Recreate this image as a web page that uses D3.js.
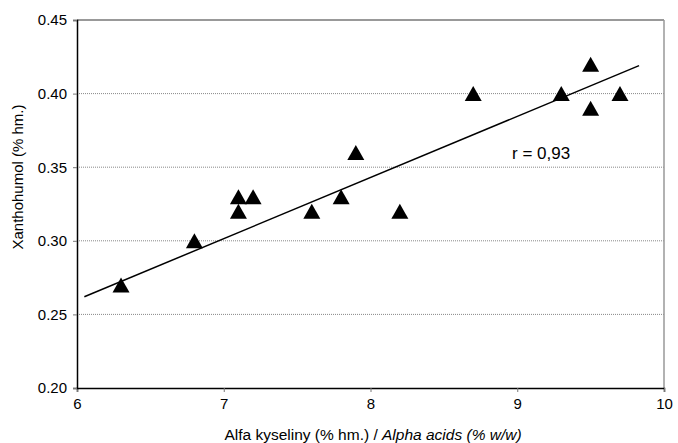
<!DOCTYPE html>
<html>
<head>
<meta charset="utf-8">
<script src="https://cdn.jsdelivr.net/npm/d3@7"></script>
<style>
  body { margin: 0; background: #fff; }
  svg { display: block; font-family: "Liberation Sans", Arial, sans-serif; }
</style>
</head>
<body>
<div id="chart"></div>
<script>
// alpha acids (% w/w) vs xanthohumol (% w/w)
const alphaAcids = [6.3, 6.8, 7.1, 7.1, 7.2, 7.6, 7.8, 7.9, 8.2, 8.7, 9.3, 9.5, 9.5, 9.7]
const xanthohumol = [0.27, 0.30, 0.32, 0.33, 0.33, 0.32, 0.33, 0.36, 0.32, 0.40, 0.40, 0.42, 0.39, 0.40]
// trend line end points
const trendX = [6.05, 9.83]
const trendY = [0.262, 0.419]
const xTicks = [6, 7, 8, 9, 10]
const yTicks = [0.20, 0.25, 0.30, 0.35, 0.40, 0.45]

const W = 678, H = 443
const margin = { top: 20, right: 14, bottom: 55, left: 77 }

const svg = d3.select("#chart").append("svg")
  .attr("width", W)
  .attr("height", H)

const x = d3.scaleLinear().domain([6, 10]).range([margin.left, W - margin.right])
const y = d3.scaleLinear().domain([0.20, 0.45]).range([H - margin.bottom, margin.top])

// gridlines
svg.append("g")
  .selectAll("line")
  .data(yTicks.filter(d => d > 0.2 && d < 0.45))
  .join("line")
    .attr("x1", x(6)).attr("x2", x(10))
    .attr("y1", d => y(d)).attr("y2", d => y(d))
    .attr("stroke", "#888")
    .attr("stroke-width", 1)
    .attr("stroke-dasharray", "1,1")

// top and right frame
svg.append("line")
  .attr("x1", x(6)).attr("x2", x(10))
  .attr("y1", y(0.45)).attr("y2", y(0.45))
  .attr("stroke", "#999").attr("stroke-width", 2)
svg.append("line")
  .attr("x1", x(10)).attr("x2", x(10))
  .attr("y1", y(0.45)).attr("y2", y(0.20))
  .attr("stroke", "#999").attr("stroke-width", 1.5)

// axes
const xAxis = svg.append("g")
  .attr("transform", `translate(0,${y(0.20)})`)
  .call(d3.axisBottom(x).tickValues(xTicks).tickFormat(d3.format("d")).tickSizeOuter(0).tickSize(4).tickPadding(6))
xAxis.select(".domain").attr("stroke", "#000").attr("stroke-width", 1.5)
xAxis.selectAll(".tick line").attr("stroke", "#777")
xAxis.selectAll("text").attr("font-size", "15px").attr("fill", "#000")
  .attr("font-family", "Liberation Sans, Arial, sans-serif")

const yAxis = svg.append("g")
  .attr("transform", `translate(${x(6)},0)`)
  .call(d3.axisLeft(y).tickValues(yTicks).tickFormat(d3.format(".2f")).tickSizeOuter(0).tickSize(4).tickPadding(6))
yAxis.select(".domain").attr("stroke", "#000").attr("stroke-width", 1.5)
yAxis.selectAll(".tick line").attr("stroke", "#777")
yAxis.selectAll("text").attr("font-size", "15px").attr("fill", "#000")
  .attr("font-family", "Liberation Sans, Arial, sans-serif")

// trend line
svg.append("line")
  .attr("x1", x(trendX[0])).attr("y1", y(trendY[0]))
  .attr("x2", x(trendX[1])).attr("y2", y(trendY[1]))
  .attr("stroke", "#000")
  .attr("stroke-width", 1.5)

// triangle markers, 17 wide x 15 tall, centred on the value
const tw = 8.5, th = 7.5
svg.append("g")
  .selectAll("path")
  .data(alphaAcids.map((a, i) => [a, xanthohumol[i]]))
  .join("path")
    .attr("d", d => {
      const cx = x(d[0]), cy = y(d[1])
      return `M${cx},${cy - th}L${cx + tw},${cy + th}L${cx - tw},${cy + th}Z`
    })
    .attr("fill", "#000")

// r label
svg.append("text")
  .attr("x", 512)
  .attr("y", 159)
  .attr("font-size", "17px")
  .text("r = 0,93")

// axis titles
const xt = svg.append("text")
  .attr("x", 373)
  .attr("y", 440)
  .attr("text-anchor", "middle")
  .attr("font-size", "15.5px")
xt.append("tspan").text("Alfa kyseliny (% hm.) / ")
xt.append("tspan").attr("font-style", "italic").text("Alpha acids (% w/w)")

svg.append("text")
  .attr("transform", "translate(22.5,177) rotate(-90)")
  .attr("text-anchor", "middle")
  .attr("font-size", "15px")
  .text("Xanthohumol (% hm.)")
</script>
</body>
</html>
